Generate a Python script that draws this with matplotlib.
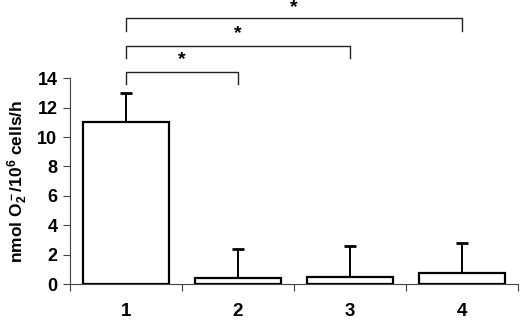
import matplotlib
matplotlib.use("Agg")
import matplotlib.pyplot as plt

plt.rcParams["font.family"] = ["Liberation Sans", "DejaVu Sans"]
plt.rcParams["font.weight"] = "bold"
plt.rcParams["mathtext.fontset"] = "custom"
plt.rcParams["mathtext.rm"] = "Liberation Sans:bold"
plt.rcParams["mathtext.it"] = "Liberation Sans:bold"
plt.rcParams["mathtext.bf"] = "Liberation Sans:bold"

# dados
grupos = ["1", "2", "3", "4"]
medias = [11.0, 0.4, 0.5, 0.75]
erros = [2.0, 1.95, 2.1, 2.05]
# comparações significativas (grupo a, grupo b, altura do colchete, altura do asterisco)
comparacoes = [(1, 2, 14.45, 15.25), (1, 3, 16.22, 17.05), (1, 4, 18.08, 18.8)]

fig = plt.figure(figsize=(5.2, 3.23), dpi=100)
ax = fig.add_axes([0.1346, 0.1207, 0.8614, 0.637])

pos = list(range(1, len(grupos) + 1))
ax.bar(pos, medias, width=0.77, color="white", edgecolor="black", linewidth=1.6, zorder=2)
ax.errorbar(pos, medias, yerr=[[0] * len(erros), erros], fmt="none", ecolor="black",
            elinewidth=1.4, capsize=4.5, capthick=2, zorder=1)

ax.set_xlim(0.5, 4.5)
ax.set_ylim(0, 14)
ax.set_yticks(range(0, 15, 2))
ax.set_xticks(pos)
ax.set_xticklabels(grupos, fontsize=13.5, fontweight="bold")
ax.set_xticks([p + 0.5 for p in [0] + pos], minor=True)
ax.tick_params(axis="x", which="major", length=0, pad=14)
ax.tick_params(axis="x", which="minor", length=5, width=0.8, color="#444444", direction="out")
ax.tick_params(axis="y", length=5, width=0.8, color="#444444", direction="out", labelsize=13, pad=4)
for t in ax.get_yticklabels():
    t.set_fontweight("bold")

for lado in ["top", "right"]:
    ax.spines[lado].set_visible(False)
for lado in ["left", "bottom"]:
    ax.spines[lado].set_color("#444444")
    ax.spines[lado].set_linewidth(0.8)

ax.set_ylabel(r"nmol O$_2^-$/10$^6$ cells/h", fontsize=12.5, fontweight="bold", labelpad=5)

# colchetes de significância
for a, b, h, hs in comparacoes:
    ax.plot([a, a, b, b], [h - 0.87, h, h, h - 0.87], color="#222222", linewidth=1.0, clip_on=False)
    ax.text((a + b) / 2, hs, "*", ha="center", va="center", fontsize=14, fontweight="bold")

fig.savefig("out.png", dpi=100)
